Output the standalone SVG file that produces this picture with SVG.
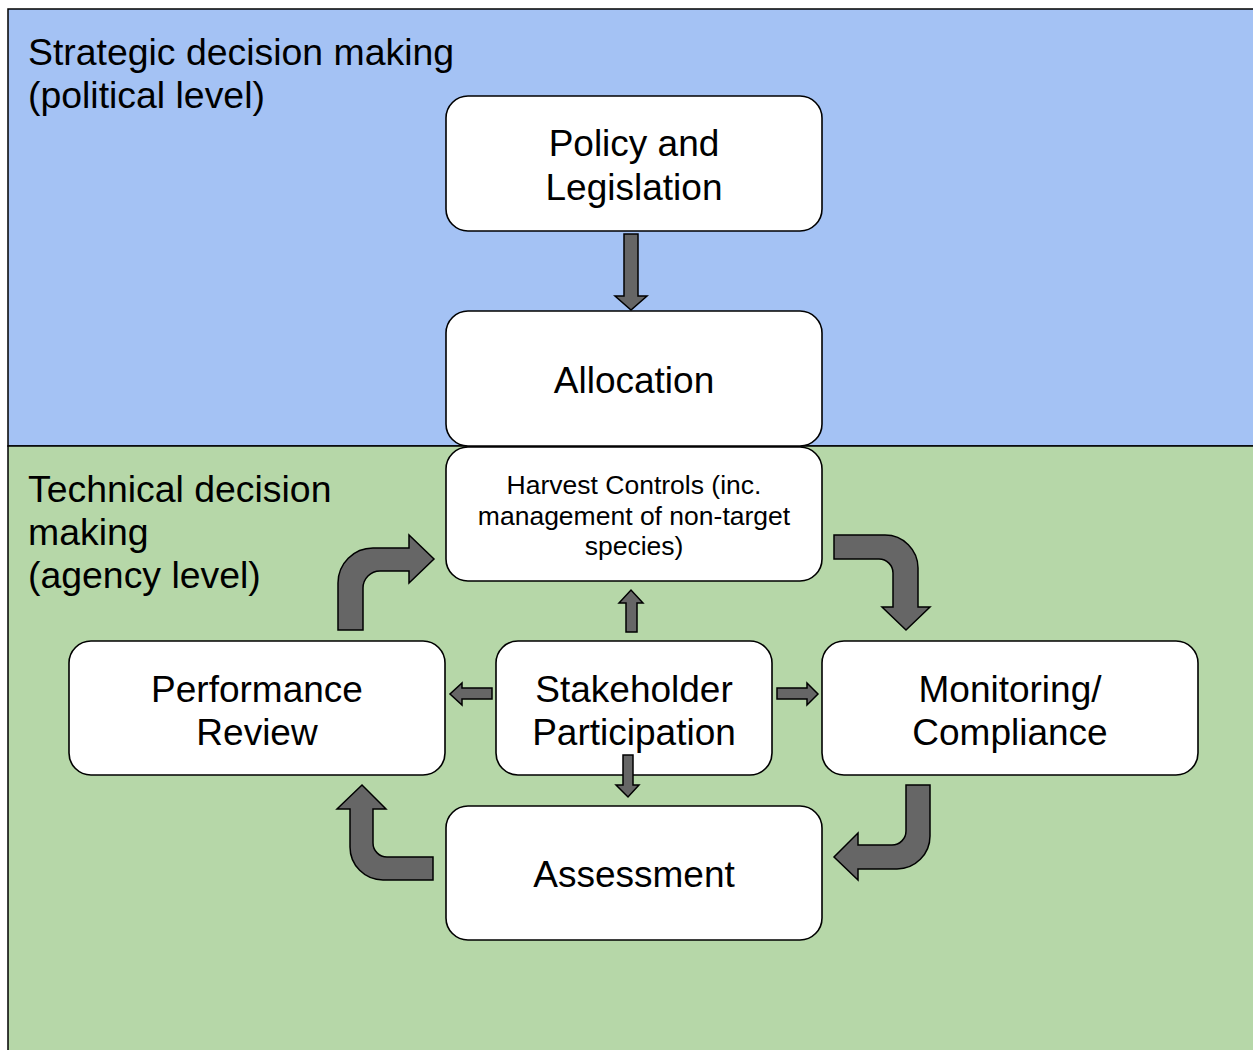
<svg xmlns="http://www.w3.org/2000/svg" width="1253" height="1050" viewBox="0 0 1253 1050">
  <style>
    .band { stroke: #000; stroke-width: 1.5; }
    .box { fill: #fff; stroke: #000; stroke-width: 1.6; }
    .arrow { fill: #666; stroke: #000; stroke-width: 1.5; stroke-linejoin: miter; }
    text { font-family: "Liberation Sans", Arial, sans-serif; fill: #000; }
    .big { font-size: 37px; text-anchor: middle; }
    .small { font-size: 26.5px; text-anchor: middle; }
    .lvl { font-size: 37.4px; }
  </style>

  <!-- level bands -->
  <rect class="band" x="8" y="9" width="1260" height="437" fill="#a4c2f4"/>
  <rect class="band" x="8" y="446" width="1260" height="620" fill="#b6d7a8"/>
  <text class="lvl" x="28" y="65">Strategic decision making</text>
  <text class="lvl" x="28" y="108">(political level)</text>
  <text class="lvl" x="28" y="502">Technical decision</text>
  <text class="lvl" x="28" y="545">making</text>
  <text class="lvl" x="28" y="588">(agency level)</text>

  <g id="policy">
    <rect class="box" x="446" y="96" width="376" height="135" rx="22"/>
    <text class="big" x="634" y="156">Policy and</text>
    <text class="big" x="634" y="200">Legislation</text>
  </g>
  <g id="allocation">
    <rect class="box" x="446" y="311" width="376" height="135" rx="22"/>
    <text class="big" x="634" y="393">Allocation</text>
  </g>
  <g id="harvest">
    <rect class="box" x="446" y="447" width="376" height="134" rx="22"/>
    <text class="small" x="634" y="494">Harvest Controls (inc.</text>
    <text class="small" x="634" y="525">management of non-target</text>
    <text class="small" x="634" y="555">species)</text>
  </g>
  <g id="performance">
    <rect class="box" x="69" y="641" width="376" height="134" rx="22"/>
    <text class="big" x="257" y="702">Performance</text>
    <text class="big" x="257" y="745">Review</text>
  </g>
  <g id="stakeholder">
    <rect class="box" x="496" y="641" width="276" height="134" rx="22"/>
    <text class="big" x="634" y="702">Stakeholder</text>
    <text class="big" x="634" y="745">Participation</text>
  </g>
  <g id="monitoring">
    <rect class="box" x="822" y="641" width="376" height="134" rx="22"/>
    <text class="big" x="1010" y="702">Monitoring/</text>
    <text class="big" x="1010" y="745">Compliance</text>
  </g>
  <g id="assessment">
    <rect class="box" x="446" y="806" width="376" height="134" rx="22"/>
    <text class="big" x="634" y="887">Assessment</text>
  </g>

  <!-- connectors (drawn above the boxes) -->
  <g id="connectors">
    <path class="arrow" d="M624,234 L638,234 L638,296 L647,296 L631,310 L615,296 L624,296 Z"/>
    <path class="arrow" d="M626,632 L626,603 L619,603 L631,590 L643,603 L637,603 L637,632 Z"/>
    <path class="arrow" d="M492,688 L462,688 L462,683 L450,694 L462,705 L462,699 L492,699 Z"/>
    <path class="arrow" d="M777,688 L807,688 L807,683 L818,694 L807,705 L807,699 L777,699 Z"/>
    <path class="arrow" d="M623,755 L633,755 L633,785 L639,785 L628,797 L616,785 L623,785 Z"/>
    <!-- curved loop arrows -->
    <path class="arrow" d="M338,630 L338,583 A35,35 0 0 1 373,548 L409,548 L409,535 L434,559 L409,583 L409,571 L380,571 A17,17 0 0 0 363,588 L363,630 Z"/>
    <path class="arrow" d="M834,535 L885,535 A33,33 0 0 1 918,568 L918,607 L930,607 L906,630 L882,607 L893,607 L893,573 A14,14 0 0 0 879,559 L834,559 Z"/>
    <path class="arrow" d="M930,785 L930,836 A33,33 0 0 1 897,869 L858,869 L858,880 L834,857 L858,833 L858,845 L892,845 A14,14 0 0 0 906,831 L906,785 Z"/>
    <path class="arrow" d="M433,880 L383,880 A33,33 0 0 1 350,847 L350,809 L337,809 L362,785 L386,809 L373,809 L373,843 A14,14 0 0 0 387,857 L433,857 Z"/>
  </g>
</svg>
